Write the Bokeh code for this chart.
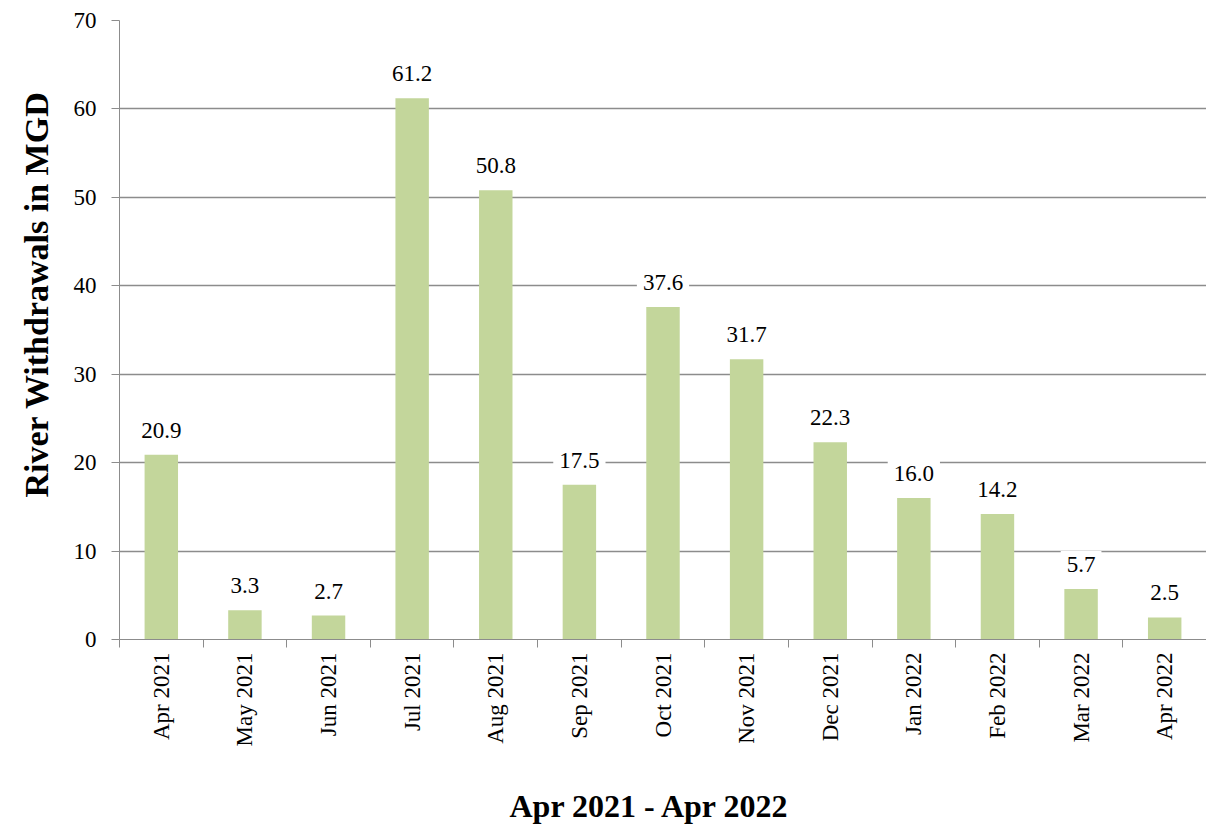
import math
from bokeh.plotting import figure
from bokeh.models import ColumnDataSource, FixedTicker, Range1d, Title
from bokeh.core.properties import value
from bokeh.embed import file_html
from bokeh.resources import INLINE

months = ["Apr 2021", "May 2021", "Jun 2021", "Jul 2021", "Aug 2021", "Sep 2021",
          "Oct 2021", "Nov 2021", "Dec 2021", "Jan 2022", "Feb 2022", "Mar 2022", "Apr 2022"]
withdrawals = [20.9, 3.3, 2.7, 61.2, 50.8, 17.5, 37.6, 31.7, 22.3, 16.0, 14.2, 5.7, 2.5]
y_ticks = [0, 10, 20, 30, 40, 50, 60, 70]
x_title = "Apr 2021 - Apr 2022"
y_title = "River Withdrawals in MGD"

FONT = "Liberation Serif"
GRID = "#8C8C8C"
BAR = "#C3D69B"

centers = [i + 0.5 for i in range(len(months))]
bounds = list(range(len(months) + 1))

src = ColumnDataSource(dict(
    x=centers,
    top=withdrawals,
    label=["%.1f" % v for v in withdrawals],
))

p = figure(
    frame_width=1087, frame_height=619,
    x_range=Range1d(0, len(months)), y_range=Range1d(0, 70),
    output_backend="svg", toolbar_location=None,
    min_border_left=119, min_border_top=20, min_border_right=0,
)
p.outline_line_color = None
p.background_fill_color = "white"

p.vbar(x="x", top="top", width=0.4, source=src, fill_color=BAR, line_color=None)
p.text(x="x", y="top", text="label", source=src,
       text_font=value(FONT), text_font_size="23px", text_color="black",
       text_align="center", text_baseline="bottom", y_offset=-11,
       background_fill_color="white", padding=6)

# y axis
p.yaxis.ticker = FixedTicker(ticks=y_ticks)
p.yaxis.axis_line_color = GRID
p.yaxis.major_tick_line_color = GRID
p.yaxis.major_tick_out = 8
p.yaxis.major_tick_in = 0
p.yaxis.minor_tick_line_color = None
p.yaxis.major_label_text_font = FONT
p.yaxis.major_label_text_font_size = "23px"
p.yaxis.major_label_text_color = "black"
p.yaxis.major_label_standoff = 15

# x axis
p.xaxis.ticker = FixedTicker(ticks=centers, minor_ticks=bounds)
p.xaxis.major_label_overrides = {c: m for c, m in zip(centers, months)}
p.xaxis.axis_line_color = GRID
p.xaxis.major_tick_line_color = None
p.xaxis.major_tick_out = 8
p.xaxis.major_tick_in = 0
p.xaxis.minor_tick_line_color = GRID
p.xaxis.minor_tick_out = 8
p.xaxis.minor_tick_in = 0
p.xaxis.major_label_orientation = math.pi / 2
p.xaxis.major_label_text_font = FONT
p.xaxis.major_label_text_font_size = "23px"
p.xaxis.major_label_text_color = "black"
p.xaxis.major_label_standoff = 5

p.add_layout(Title(text=y_title, align="left", offset=142, standoff=31,
                   text_font=FONT, text_font_size="34px", text_font_style="bold",
                   text_color="black"), "left")
p.add_layout(Title(text=x_title, align="left", offset=390, standoff=72,
                   text_font=FONT, text_font_size="32px", text_font_style="bold",
                   text_color="black"), "below")

p.xgrid.grid_line_color = None
p.ygrid.ticker = FixedTicker(ticks=y_ticks)
p.ygrid.grid_line_color = GRID
p.ygrid.grid_line_width = 1.5

open("out.html", "w").write(file_html(p, INLINE))
